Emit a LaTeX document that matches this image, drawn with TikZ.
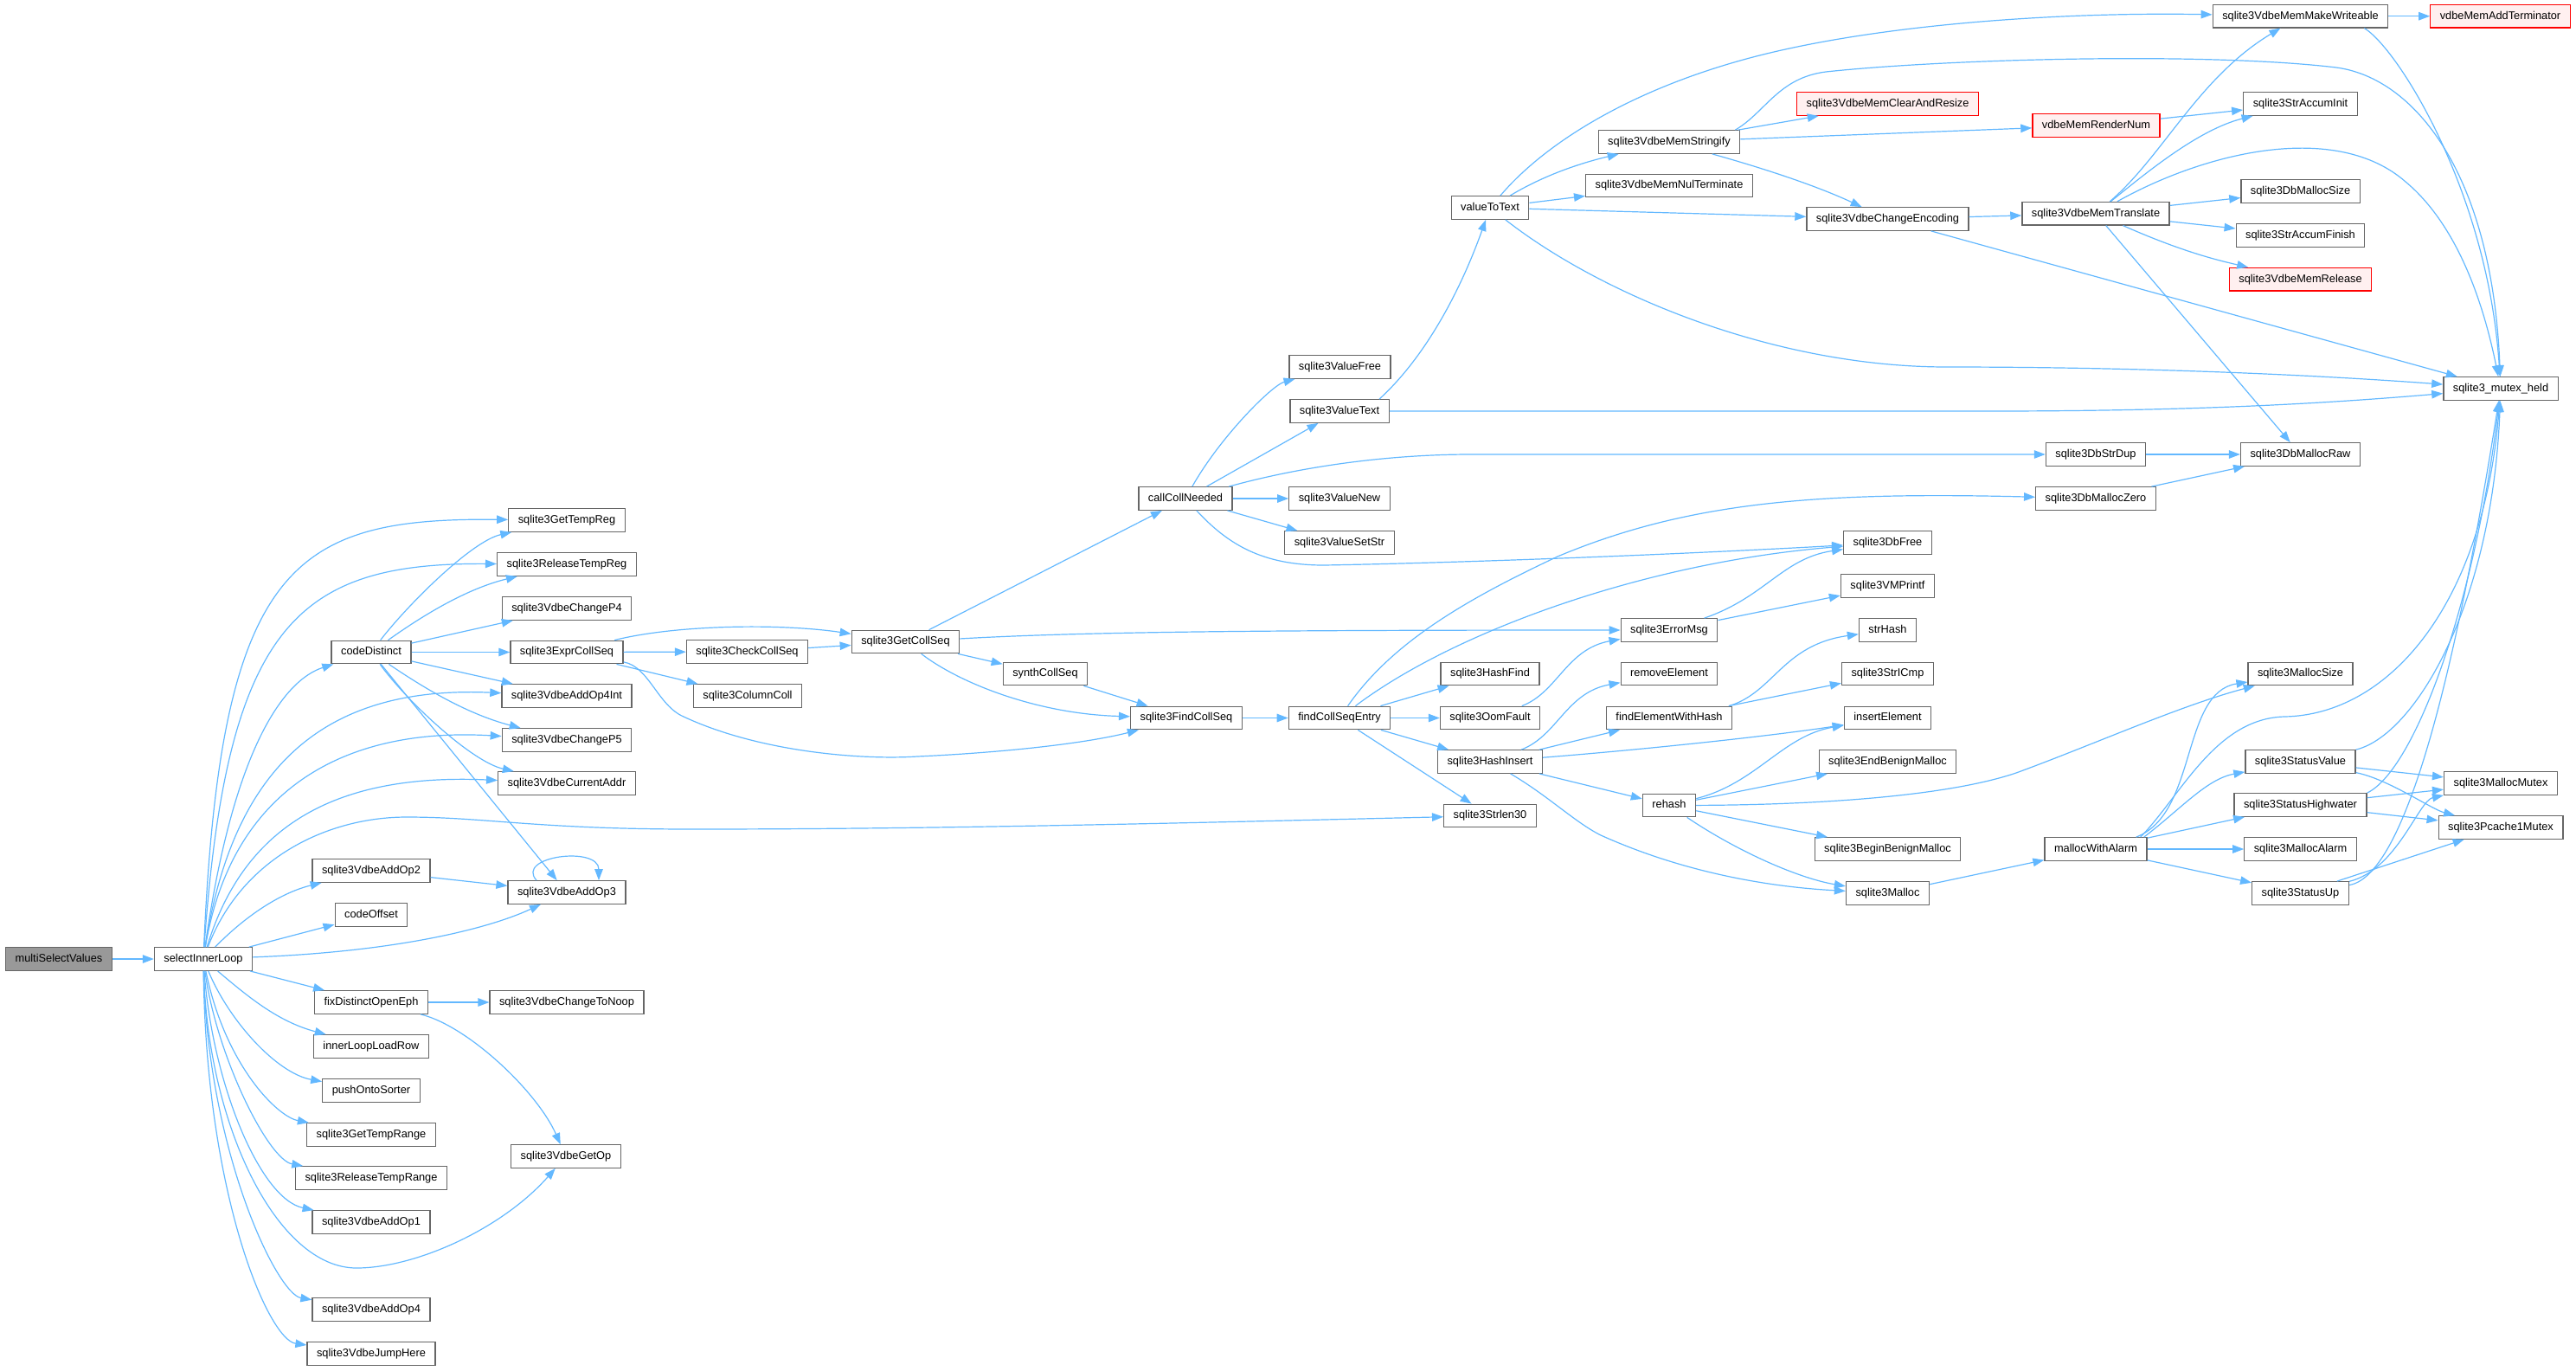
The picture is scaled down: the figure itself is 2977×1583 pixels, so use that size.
\documentclass[tikz,border=0pt]{standalone}
\usepackage{fontspec}
\setmainfont{Liberation Sans}
\usetikzlibrary{arrows.meta}
\definecolor{edgec}{HTML}{63B8FF}
\definecolor{bordc}{HTML}{666666}
\definecolor{rootfill}{HTML}{999999}
\definecolor{redfill}{HTML}{FFF0F0}
\tikzset{
  fn/.style={draw=bordc, fill=white, line width=1.3pt, font=\fontsize{12.8}{15}\selectfont,
    inner xsep=11pt, inner ysep=0pt, minimum height=26.5pt, text height=9.3pt, text depth=2.7pt},
  root/.style={fn, fill=rootfill},
  redn/.style={fn, draw=red, fill=redfill},
  ed/.style={draw=edgec, line width=1.2pt, -{Triangle[length=13pt,width=9.5pt]}},
}
\begin{document}
\begin{tikzpicture}[x=1pt,y=-1pt]
\useasboundingbox (0,0) rectangle (2977,1583);
\node[root] (msv) at (68,1108) {multiSelectValues};
\node[fn] (sil) at (235,1108) {selectInnerLoop};
\node[fn] (cd) at (429,753.5) {codeDistinct};
\node[fn] (aop2) at (429,1006) {sqlite3VdbeAddOp2};
\node[fn] (coff) at (429,1057) {codeOffset};
\node[fn] (fdoe) at (429,1158) {fixDistinctOpenEph};
\node[fn] (illr) at (429,1209) {innerLoopLoadRow};
\node[fn] (pos) at (429,1260) {pushOntoSorter};
\node[fn] (gtr) at (429,1311) {sqlite3GetTempRange};
\node[fn] (rtr) at (429,1361) {sqlite3ReleaseTempRange};
\node[fn] (aop1) at (429,1412) {sqlite3VdbeAddOp1};
\node[fn] (aop4) at (429,1513) {sqlite3VdbeAddOp4};
\node[fn] (jh) at (429,1564) {sqlite3VdbeJumpHere};
\node[fn] (gtreg) at (655,601) {sqlite3GetTempReg};
\node[fn] (rtreg) at (655,652) {sqlite3ReleaseTempReg};
\node[fn] (cp4) at (655,703) {sqlite3VdbeChangeP4};
\node[fn] (ecs) at (655,753.5) {sqlite3ExprCollSeq};
\node[fn] (a4i) at (655,804) {sqlite3VdbeAddOp4Int};
\node[fn] (cp5) at (655,855) {sqlite3VdbeChangeP5};
\node[fn] (cua) at (655,905) {sqlite3VdbeCurrentAddr};
\node[fn] (aop3) at (655,1031) {sqlite3VdbeAddOp3};
\node[fn] (ctn) at (655,1158) {sqlite3VdbeChangeToNoop};
\node[fn] (gop) at (654,1336) {sqlite3VdbeGetOp};
\node[fn] (ccs) at (863.5,753) {sqlite3CheckCollSeq};
\node[fn] (colc) at (864,804) {sqlite3ColumnColl};
\node[fn] (gcs) at (1046.5,741.5) {sqlite3GetCollSeq};
\node[fn] (syn) at (1208,778.5) {synthCollSeq};
\node[fn] (ccn) at (1370,576) {callCollNeeded};
\node[fn] (fcs) at (1371,829.5) {sqlite3FindCollSeq};
\node[fn] (vfree) at (1548.5,424) {sqlite3ValueFree};
\node[fn] (vtext) at (1548,475) {sqlite3ValueText};
\node[fn] (vnew) at (1548,576) {sqlite3ValueNew};
\node[fn] (vset) at (1548,627) {sqlite3ValueSetStr};
\node[fn] (fcse) at (1548,829.5) {findCollSeqEntry};
\node[fn] (v2t) at (1722,240) {valueToText};
\node[fn] (hfind) at (1722,778.5) {sqlite3HashFind};
\node[fn] (oom) at (1722,829.5) {sqlite3OomFault};
\node[fn] (hins) at (1722,880) {sqlite3HashInsert};
\node[fn] (slen) at (1722,942.5) {sqlite3Strlen30};
\node[fn] (mstr) at (1929,164) {sqlite3VdbeMemStringify};
\node[fn] (mnul) at (1929,214.5) {sqlite3VdbeMemNulTerminate};
\node[fn] (emsg) at (1929,728) {sqlite3ErrorMsg};
\node[fn] (rmel) at (1929,778.5) {removeElement};
\node[fn] (fewh) at (1929,829.5) {findElementWithHash};
\node[fn] (reh) at (1929,930.5) {rehash};
\node[redn] (clr) at (2181.5,120) {sqlite3VdbeMemClearAndResize};
\node[fn] (cenc) at (2181.5,253) {sqlite3VdbeChangeEncoding};
\node[fn] (dbfree) at (2181.5,627) {sqlite3DbFree};
\node[fn] (vmp) at (2181.5,677) {sqlite3VMPrintf};
\node[fn] (shash) at (2181.5,728) {strHash};
\node[fn] (sicmp) at (2181.5,778.5) {sqlite3StrICmp};
\node[fn] (insel) at (2181.5,829.5) {insertElement};
\node[fn] (endb) at (2181.5,880) {sqlite3EndBenignMalloc};
\node[fn] (begb) at (2181.5,981) {sqlite3BeginBenignMalloc};
\node[fn] (mall) at (2181.5,1032) {sqlite3Malloc};
\node[redn] (rnum) at (2422.5,145) {vdbeMemRenderNum};
\node[fn] (mtr) at (2422,246.7) {sqlite3VdbeMemTranslate};
\node[fn] (dsd) at (2422,525) {sqlite3DbStrDup};
\node[fn] (dmz) at (2422,576) {sqlite3DbMallocZero};
\node[fn] (mwa) at (2422,981) {mallocWithAlarm};
\node[fn] (mmw) at (2658.5,18.7) {sqlite3VdbeMemMakeWriteable};
\node[fn] (sai) at (2658.5,120) {sqlite3StrAccumInit};
\node[fn] (dms) at (2658.5,221) {sqlite3DbMallocSize};
\node[fn] (saf) at (2658.5,272) {sqlite3StrAccumFinish};
\node[redn] (mrel) at (2658.5,322.7) {sqlite3VdbeMemRelease};
\node[fn] (dmr) at (2658.5,525) {sqlite3DbMallocRaw};
\node[fn] (msz) at (2658.5,778.5) {sqlite3MallocSize};
\node[fn] (sval) at (2658.5,880) {sqlite3StatusValue};
\node[fn] (shw) at (2658.5,930) {sqlite3StatusHighwater};
\node[fn] (malarm) at (2658.5,981) {sqlite3MallocAlarm};
\node[fn] (sup) at (2658.5,1032) {sqlite3StatusUp};
\node[redn] (adt) at (2889.5,18.7) {vdbeMemAddTerminator};
\node[fn] (mh) at (2890,449) {sqlite3\_mutex\_held};
\node[fn] (mmx) at (2890,905) {sqlite3MallocMutex};
\node[fn] (pmx) at (2890,956) {sqlite3Pcache1Mutex};

\draw[ed] (msv) -- (sil);
% selectInnerLoop
\draw[ed] (sil) .. controls (255,650) and (340,598) .. (gtreg);
\draw[ed] (sil) .. controls (262,720) and (345,650) .. (rtreg);
\draw[ed] (sil) .. controls (270,860) and (330,785) .. (cd);
\draw[ed] (sil) .. controls (270,880) and (380,792) .. (a4i);
\draw[ed] (sil) .. controls (268,910) and (400,840) .. (cp5);
\draw[ed] (sil) .. controls (280,960) and (380,893) .. (cua);
\draw[ed] (sil) .. controls (280,990) and (380,944) .. (470,944) .. controls (560,944) and (620,958) .. (800,958) .. controls (1100,958) and (1400,950) .. (slen);
\draw[ed] (sil) .. controls (290,1052) and (330,1030) .. (aop2);
\draw[ed] (sil) -- (coff);
\draw[ed] (sil) .. controls (450,1100) and (560,1075) .. (aop3);
\draw[ed] (sil) -- (fdoe);
\draw[ed] (sil) .. controls (285,1150) and (320,1180) .. (illr);
\draw[ed] (sil) .. controls (265,1180) and (320,1240) .. (pos);
\draw[ed] (sil) .. controls (260,1230) and (320,1290) .. (gtr);
\draw[ed] (sil) .. controls (250,1220) and (310,1340) .. (rtr);
\draw[ed] (sil) .. controls (245,1250) and (300,1385) .. (aop1);
\draw[ed] (sil) .. controls (240,1300) and (320,1465) .. (412,1465) .. controls (480,1465) and (580,1420) .. (gop);
\draw[ed] (sil) .. controls (240,1330) and (320,1495) .. (aop4);
\draw[ed] (sil) .. controls (238,1380) and (310,1548) .. (jh);
% codeDistinct
\draw[ed] (cd) .. controls (470,700) and (545,625) .. (gtreg);
\draw[ed] (cd) .. controls (490,710) and (540,680) .. (rtreg);
\draw[ed] (cd) -- (cp4);
\draw[ed] (cd) -- (ecs);
\draw[ed] (cd) -- (a4i);
\draw[ed] (cd) .. controls (490,795) and (540,825) .. (cp5);
\draw[ed] (cd) .. controls (470,810) and (545,880) .. (cua);
\draw[ed] (cd) -- (aop3);
\draw[ed] ([xshift=-35pt]aop3.north) .. controls +(-25,-28) and +(0,-40) .. ([xshift=37pt]aop3.north);
\draw[ed] (aop2) -- (aop3);
\draw[ed] (fdoe) -- (ctn);
\draw[ed] (fdoe) .. controls (540,1185) and (620,1260) .. (gop);
% sqlite3ExprCollSeq
\draw[ed] (ecs) .. controls (780,722) and (900,720) .. (gcs);
\draw[ed] (ecs) -- (ccs);
\draw[ed] (ecs) -- (colc);
\draw[ed] (ecs) .. controls (750,770) and (760,815) .. (790,828) .. controls (880,870) and (1000,878) .. (1060,874) .. controls (1150,870) and (1250,860) .. (fcs);
\draw[ed] (ccs) -- (gcs);
\draw[ed] (gcs) -- (ccn);
\draw[ed] (gcs) .. controls (1250,730) and (1450,728) .. (emsg);
\draw[ed] (gcs) -- (syn);
\draw[ed] (gcs) .. controls (1110,790) and (1200,825) .. (fcs);
\draw[ed] (syn) -- (fcs);
\draw[ed] (fcs) -- (fcse);
% callCollNeeded
\draw[ed] (ccn) .. controls (1410,505) and (1470,445) .. (vfree);
\draw[ed] (ccn) -- (vtext);
\draw[ed] (ccn) .. controls (1500,540) and (1600,525) .. (1700,525) -- (dsd);
\draw[ed] (ccn) -- (vnew);
\draw[ed] (ccn) -- (vset);
\draw[ed] (ccn) .. controls (1420,630) and (1460,653) .. (1530,653) .. controls (1700,650) and (1950,640) .. (dbfree);
% sqlite3ValueText
\draw[ed] ([xshift=46pt]vtext.north) .. controls (1650,410) and (1690,330) .. (v2t);
\draw[ed] (vtext) -- (2300,475) .. controls (2550,475) and (2700,465) .. (mh);
% valueToText
\draw[ed] (v2t) .. controls (1790,160) and (1900,95) .. (2050,60) .. controls (2200,25) and (2400,14) .. (mmw);
\draw[ed] (v2t) .. controls (1780,205) and (1820,190) .. (mstr);
\draw[ed] (v2t) -- (mnul);
\draw[ed] (v2t) -- (cenc);
\draw[ed] (v2t) .. controls (1850,340) and (2050,424) .. (2250,424) .. controls (2500,424) and (2700,435) .. (mh);
% sqlite3VdbeMemStringify
\draw[ed] (mstr) -- (clr);
\draw[ed] ([xshift=-6pt]mstr.north east) .. controls (2040,130) and (2055,90) .. (2110,83) .. controls (2250,68) and (2550,60) .. (2700,78) .. controls (2790,90) and (2880,200) .. (mh);
\draw[ed] (mstr) -- (rnum);
\draw[ed] (mstr) .. controls (2040,195) and (2100,215) .. (cenc);
% MakeWriteable
\draw[ed] (mmw) -- (adt);
\draw[ed] ([xshift=-28pt]mmw.south east) .. controls (2770,55) and (2875,220) .. (mh);
\draw[ed] (rnum) -- (sai);
% ChangeEncoding
\draw[ed] (cenc) -- (mtr);
\draw[ed] (cenc) -- (mh);
% MemTranslate
\draw[ed] (mtr) .. controls (2500,180) and (2540,90) .. (mmw);
\draw[ed] (mtr) .. controls (2480,200) and (2540,150) .. (sai);
\draw[ed] (mtr) .. controls (2550,175) and (2700,140) .. (2780,210) .. controls (2840,260) and (2870,350) .. (mh);
\draw[ed] (mtr) -- (dms);
\draw[ed] (mtr) -- (saf);
\draw[ed] (mtr) .. controls (2520,290) and (2560,300) .. (mrel);
\draw[ed] (mtr) -- (dmr);
\draw[ed] (dsd) -- (dmr);
\draw[ed] (dmz) -- (dmr);
% findCollSeqEntry
\draw[ed] (fcse) .. controls (1610,740) and (1700,690) .. (1800,643) .. controls (1950,580) and (2100,568) .. (dmz);
\draw[ed] (fcse) .. controls (1680,730) and (1900,650) .. (dbfree);
\draw[ed] (fcse) -- (hfind);
\draw[ed] (fcse) -- (oom);
\draw[ed] (fcse) -- (hins);
\draw[ed] (fcse) -- (slen);
\draw[ed] (oom) .. controls (1800,800) and (1810,750) .. (emsg);
\draw[ed] (emsg) .. controls (2040,690) and (2060,645) .. (dbfree);
\draw[ed] (emsg) -- (vmp);
% sqlite3HashInsert
\draw[ed] (hins) .. controls (1800,850) and (1810,800) .. (rmel);
\draw[ed] (hins) -- (fewh);
\draw[ed] (hins) .. controls (1900,866) and (2050,850) .. (insel);
\draw[ed] (hins) -- (reh);
\draw[ed] (hins) .. controls (1790,920) and (1820,950) .. (1850,965) .. controls (1950,1010) and (2050,1025) .. (mall);
\draw[ed] ([xshift=-4pt]fewh.north east) .. controls (2050,800) and (2060,745) .. (shash);
\draw[ed] (fewh) -- (sicmp);
% rehash
\draw[ed] (reh) .. controls (2030,905) and (2060,850) .. (insel);
\draw[ed] (reh) -- (endb);
\draw[ed] (reh) .. controls (2100,930) and (2250,920) .. (2330,893) .. controls (2420,860) and (2520,815) .. (msz);
\draw[ed] (reh) -- (begb);
\draw[ed] (reh) .. controls (2010,985) and (2080,1015) .. (mall);
\draw[ed] (mall) -- (mwa);
% mallocWithAlarm
\draw[ed] ([xshift=-13pt]mwa.north east) .. controls (2540,940) and (2520,800) .. (msz);
\draw[ed] ([xshift=-8pt]mwa.north east) .. controls (2520,920) and (2560,830) .. (2640,828) .. controls (2760,826) and (2870,700) .. (mh);
\draw[ed] ([xshift=-4pt]mwa.north east) .. controls (2520,935) and (2550,900) .. (sval);
\draw[ed] (mwa) -- (shw);
\draw[ed] (mwa) -- (malarm);
\draw[ed] (mwa) -- (sup);
% status
\draw[ed] (sval.north east) .. controls (2790,850) and (2880,700) .. (mh);
\draw[ed] (sval) -- (mmx);
\draw[ed] (sval) .. controls (2760,900) and (2810,935) .. (pmx);
\draw[ed] (shw.north east) .. controls (2790,890) and (2860,700) .. (mh);
\draw[ed] (shw) -- (mmx);
\draw[ed] (shw) -- (pmx);
\draw[ed] (sup) -- (pmx);
\draw[ed] (sup) .. controls (2770,1005) and (2795,925) .. (mmx);
\draw[ed] (sup) .. controls (2790,1010) and (2850,700) .. (mh);
\end{tikzpicture}
\end{document}
